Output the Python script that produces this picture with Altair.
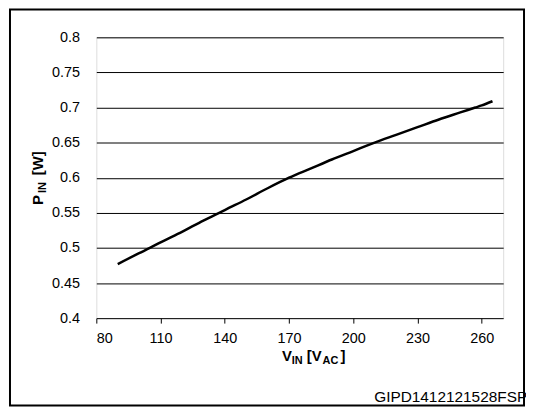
import altair as alt
import pandas as pd

# Input voltage (V AC) and input power (W)
vin = [90, 100, 105, 110, 120, 130, 137.4, 140, 150, 160, 170, 180, 190, 200,
       210, 220, 230, 240, 250, 257, 260, 265]
pin = [0.477, 0.4925, 0.500, 0.508, 0.523, 0.539, 0.550, 0.554, 0.569, 0.585,
       0.600, 0.613, 0.626, 0.638, 0.650, 0.661, 0.672, 0.683, 0.693, 0.700,
       0.703, 0.709]

x_ticks = [80, 110, 140, 170, 200, 230, 260]
y_ticks = [0.4, 0.45, 0.5, 0.55, 0.6, 0.65, 0.7, 0.75, 0.8]

watermark = "GIPD1412121528FSP"

df = pd.DataFrame({"vin": vin, "pin": pin})

FONT = "Liberation Sans"
W, H = 410, 283

x_enc = alt.X("vin:Q",
              scale=alt.Scale(domain=[80, 270], nice=False, zero=False),
              axis=alt.Axis(values=x_ticks, title=None, grid=False, domain=False,
                            tickSize=5, tickColor="black", tickWidth=1,
                            labelPadding=9, labelFontSize=14.5, labelColor="black",
                            labelFont=FONT))
y_enc = alt.Y("pin:Q",
              scale=alt.Scale(domain=[0.4, 0.8], nice=False, zero=False),
              axis=alt.Axis(values=y_ticks, format=".2~f", title=None, grid=True,
                            gridColor="black", gridWidth=1, gridOpacity=1,
                            domain=False, ticks=False, labelPadding=17,
                            labelFontSize=14.5, labelColor="black", labelFont=FONT))

line = alt.Chart(df).mark_line(color="black", strokeWidth=2.5,
                               interpolate="monotone").encode(x=x_enc, y=y_enc)


def txt(s, x, y, size, bold=True, angle=None, align="left"):
    kw = dict(font=FONT, fontSize=size, fontWeight="bold" if bold else "normal",
              color="black", align=align, baseline="alphabetic")
    if angle is not None:
        kw["angle"] = angle
    return alt.Chart(pd.DataFrame({"t": [s]})).mark_text(**kw).encode(
        x=alt.value(x), y=alt.value(y), text="t:N")


# y axis title  P_IN [W]  (rotated)
yt1 = txt("P", -54, 169, 15, angle=270)
yt2 = txt("IN", -51, 157, 11, angle=270)
yt3 = txt("[W]", -54, 139, 15, angle=270)

# x axis title  V_IN [V_AC]
xt1 = txt("V", 187, 326, 15)
xt2 = txt("IN", 197, 329, 11)
xt3 = txt("[V", 212, 326, 15)
xt4 = txt("AC", 228, 329, 11)
xt5 = txt("]", 246, 326, 15)

wm = txt(watermark, 280, 367, 15.5, bold=False)

frame = alt.Chart(pd.DataFrame({"a": [0]})).mark_rect(
    fill=None, stroke="black", strokeWidth=2).encode(
    x=alt.value(-87), x2=alt.value(431), y=alt.value(-28), y2=alt.value(371))

chart = alt.layer(line, yt1, yt2, yt3, xt1, xt2, xt3, xt4, xt5, wm, frame).properties(
    width=W, height=H,
    autosize=alt.AutoSizeParams(type="none"),
    padding={"left": 89, "top": 28, "right": 23, "bottom": 89},
).configure_view(stroke="black", strokeWidth=2).configure(background="white")

chart.save("out.html", embed_options={"renderer": "svg", "actions": False})
